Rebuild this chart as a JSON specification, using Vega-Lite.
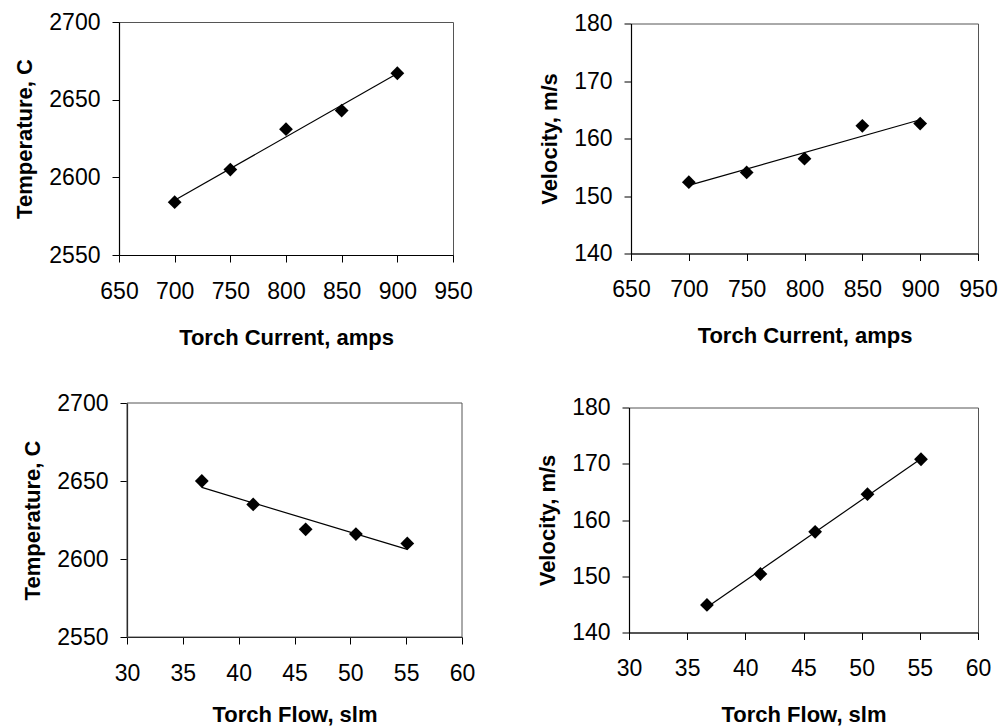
{
  "$schema": "https://vega.github.io/schema/vega-lite/v6.json",
  "padding": {"left": 13, "top": 10, "right": 5, "bottom": 5},
  "background": "white",
  "datasets": {
    "current": [
      {"current": 700, "temperature": 2584, "velocity": 152.4},
      {"current": 750, "temperature": 2605, "velocity": 154.1},
      {"current": 800, "temperature": 2631, "velocity": 156.5},
      {"current": 850, "temperature": 2643, "velocity": 162.2},
      {"current": 900, "temperature": 2667, "velocity": 162.6}
    ],
    "flow": [
      {"flow": 36.7, "temperature": 2650, "velocity": 144.9},
      {"flow": 41.3, "temperature": 2635, "velocity": 150.4},
      {"flow": 46.0, "temperature": 2619, "velocity": 157.9},
      {"flow": 50.5, "temperature": 2616, "velocity": 164.6},
      {"flow": 55.1, "temperature": 2610, "velocity": 170.8}
    ],
    "frame": [{"x1": 30, "x2": 60, "y1": 2550, "y2": 2700}]
  },
  "config": {
    "view": {"stroke": "#555", "strokeWidth": 1},
    "axis": {
      "grid": false,
      "domainColor": "black",
      "domainWidth": 1.2,
      "tickColor": "black",
      "tickSize": 7,
      "labelFont": "Liberation Sans",
      "labelFontSize": 23,
      "labelColor": "black",
      "titleFont": "Liberation Sans",
      "titleFontSize": 22,
      "titleFontWeight": "bold",
      "titleColor": "black",
      "labelFlush": false,
      "labelOverlap": false,
      "format": "d"
    },
    "axisX": {"labelPadding": 18, "titlePadding": 24},
    "axisY": {"labelPadding": 12, "titlePadding": 12}
  },
  "vconcat": [
    {
      "hconcat": [
        {
          "width": 334, "height": 233,
          "data": {"name": "current"},
          "layer": [
            {"mark": {"type": "point", "shape": "diamond", "filled": true, "color": "black", "size": 190, "opacity": 1},
             "encoding": {
               "x": {"field": "current", "type": "quantitative", "scale": {"domain": [650, 950], "nice": false, "zero": false}, "axis": {"values": [650, 700, 750, 800, 850, 900, 950], "title": "Torch Current, amps"}},
               "y": {"field": "temperature", "type": "quantitative", "scale": {"domain": [2550, 2700], "nice": false, "zero": false}, "axis": {"values": [2550, 2600, 2650, 2700], "title": "Temperature, C"}}
             }},
            {"transform": [{"regression": "temperature", "on": "current"}],
             "mark": {"type": "line", "color": "black", "strokeWidth": 1.2},
             "encoding": {
               "x": {"field": "current", "type": "quantitative"},
               "y": {"field": "temperature", "type": "quantitative"}
             }}
          ]
        },
        {
          "width": 347, "height": 230,
          "data": {"name": "current"},
          "layer": [
            {"mark": {"type": "point", "shape": "diamond", "filled": true, "color": "black", "size": 190, "opacity": 1},
             "encoding": {
               "x": {"field": "current", "type": "quantitative", "scale": {"domain": [650, 950], "nice": false, "zero": false}, "axis": {"values": [650, 700, 750, 800, 850, 900, 950], "title": "Torch Current, amps"}},
               "y": {"field": "velocity", "type": "quantitative", "scale": {"domain": [140, 180], "nice": false, "zero": false}, "axis": {"values": [140, 150, 160, 170, 180], "title": "Velocity, m/s"}}
             }},
            {"transform": [{"regression": "velocity", "on": "current"}],
             "mark": {"type": "line", "color": "black", "strokeWidth": 1.2},
             "encoding": {
               "x": {"field": "current", "type": "quantitative"},
               "y": {"field": "velocity", "type": "quantitative"}
             }}
          ]
        }
      ],
      "bounds": "flush",
      "center": true,
      "spacing": 178
    },
    {
      "hconcat": [
        {
          "width": 343, "height": 234,
          "view": {"stroke": null},
          "layer": [
            {"data": {"name": "frame"},
             "mark": {"type": "rect", "fill": null, "stroke": "#555", "strokeWidth": 1},
             "encoding": {
               "x": {"field": "x1", "type": "quantitative", "scale": {"domain": [30, 60], "range": [8, 343], "nice": false, "zero": false}, "axis": {"values": [30, 35, 40, 45, 50, 55, 60], "title": "Torch Flow, slm", "titlePadding": 19}},
               "x2": {"field": "x2"},
               "y": {"field": "y1", "type": "quantitative", "scale": {"domain": [2550, 2700], "nice": false, "zero": false}, "axis": {"values": [2550, 2600, 2650, 2700], "title": "Temperature, C", "offset": -8}},
               "y2": {"field": "y2"}
             }},
            {"data": {"name": "flow"},
             "mark": {"type": "point", "shape": "diamond", "filled": true, "color": "black", "size": 190, "opacity": 1},
             "encoding": {
               "x": {"field": "flow", "type": "quantitative", "scale": {"domain": [30, 60], "range": [8, 343], "nice": false, "zero": false}, "axis": {"values": [30, 35, 40, 45, 50, 55, 60], "title": "Torch Flow, slm", "titlePadding": 19}},
               "y": {"field": "temperature", "type": "quantitative", "scale": {"domain": [2550, 2700], "nice": false, "zero": false}, "axis": {"values": [2550, 2600, 2650, 2700], "title": "Temperature, C", "offset": -8}}
             }},
            {"data": {"name": "flow"},
             "transform": [{"regression": "temperature", "on": "flow"}],
             "mark": {"type": "line", "color": "black", "strokeWidth": 1.2},
             "encoding": {
               "x": {"field": "flow", "type": "quantitative"},
               "y": {"field": "temperature", "type": "quantitative"}
             }}
          ]
        },
        {
          "width": 349, "height": 225,
          "data": {"name": "flow"},
          "layer": [
            {"mark": {"type": "point", "shape": "diamond", "filled": true, "color": "black", "size": 190, "opacity": 1},
             "encoding": {
               "x": {"field": "flow", "type": "quantitative", "scale": {"domain": [30, 60], "nice": false, "zero": false}, "axis": {"values": [30, 35, 40, 45, 50, 55, 60], "title": "Torch Flow, slm", "titlePadding": 24}},
               "y": {"field": "velocity", "type": "quantitative", "scale": {"domain": [140, 180], "nice": false, "zero": false}, "axis": {"values": [140, 150, 160, 170, 180], "title": "Velocity, m/s"}}
             }},
            {"transform": [{"regression": "velocity", "on": "flow"}],
             "mark": {"type": "line", "color": "black", "strokeWidth": 1.2},
             "encoding": {
               "x": {"field": "flow", "type": "quantitative"},
               "y": {"field": "velocity", "type": "quantitative"}
             }}
          ]
        }
      ],
      "bounds": "flush",
      "center": true,
      "spacing": 167
    }
  ],
  "spacing": 43
}
